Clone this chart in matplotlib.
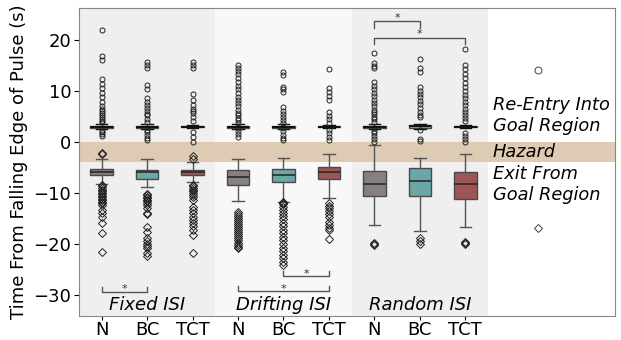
import matplotlib
matplotlib.use("Agg")
import matplotlib.pyplot as plt
import numpy as np

# group / condition labels
groups = ["Fixed ISI", "Drifting ISI", "Random ISI"]
conditions = ["N", "BC", "TCT"]
colors = ["#888080", "#6aa8a8", "#9e5555"]

# exit-from-goal-region boxes (Fixed N, BC, TCT, Drifting N, BC, TCT, Random N, BC, TCT)
exit_med = [-5.8, -5.9, -5.9, -6.9, -6.4, -5.9, -8.3, -7.6, -8.3]
exit_q1 = [-6.5, -7.3, -6.5, -8.5, -7.9, -7.3, -10.5, -10.6, -11.2]
exit_q3 = [-5.2, -5.5, -5.4, -5.4, -5.2, -4.8, -5.6, -5.1, -5.9]
exit_lo = [-8.2, -8.9, -7.8, -11.5, -11.8, -11.0, -16.3, -17.4, -16.7]
exit_hi = [-3.3, -3.3, -3.9, -3.3, -3.1, -2.4, -0.6, -3.1, -2.4]
exit_fliers = [
    [-2.2, -2.4, -8.4, -8.7, -9.0, -9.3, -9.6, -9.9, -10.2, -10.5, -10.8, -11.1, -11.4,
     -11.7, -12.0, -12.3, -13.3, -14.0, -14.6, -15.9, -17.9, -21.5],
    [-10.1, -10.4, -10.7, -11.0, -11.3, -11.6, -12.0, -12.4, -13.0, -14.0, -14.2,
     -16.6, -17.6, -18.9, -19.4, -19.9, -20.3, -20.8, -21.8, -22.4],
    [-2.7, -3.3, -8.4, -8.7, -9.0, -9.3, -9.6, -10.0, -10.4, -10.8, -11.4, -12.7, -13.3,
     -14.0, -14.6, -15.2, -15.9, -16.5, -17.3, -18.2, -21.8],
    [-13.7, -14.1, -14.5, -14.9, -15.3, -15.7, -16.1, -16.5, -16.9, -17.3, -17.7, -18.1,
     -18.5, -18.9, -19.3, -19.7, -20.1, -20.5, -20.8],
    [-11.7, -11.9, -12.1, -12.7, -13.3, -13.9, -14.5, -15.1, -15.8, -16.4, -17.2, -17.9,
     -18.6, -19.3, -20.0, -20.7, -21.4, -22.1, -22.8, -23.5, -24.1],
    [-12.0, -12.5, -13.0, -13.6, -14.2, -14.6, -15.6, -16.2, -16.8, -17.3, -19.1],
    [-19.8, -20.0, -20.1],
    [-18.8, -19.5, -20.0],
    [-19.6, -19.8, -19.9],
]

# re-entry-into-goal-region boxes
reentry_med = [3.05, 3.05, 3.05, 3.05, 3.05, 3.05, 3.05, 3.1, 3.05]
reentry_q1 = [2.85, 2.85, 2.9, 2.85, 2.85, 2.9, 2.85, 2.8, 2.95]
reentry_q3 = [3.25, 3.25, 3.2, 3.25, 3.25, 3.2, 3.25, 3.35, 3.15]
reentry_lo = [2.6, 2.6, 2.7, 2.6, 2.6, 2.7, 2.6, 2.6, 2.8]
reentry_hi = [3.5, 3.5, 3.4, 3.5, 3.5, 3.4, 3.5, 3.6, 3.3]
reentry_fliers = [
    [22.0, 16.9, 16.1, 12.4, 11.5, 10.6, 9.7, 8.8, 7.9, 7.0, 6.6, 6.2, 5.8, 5.4, 5.0,
     4.6, 4.2, 3.9, 2.2, 1.9, 1.6, 1.3],
    [15.7, 15.1, 14.5, 11.2, 10.5, 8.6, 7.9, 7.3, 6.7, 6.1, 5.6, 5.3, 4.6, 4.0, 2.4,
     1.9, 1.4, 0.9, 0.4],
    [15.7, 15.1, 14.5, 9.5, 8.2, 7.3, 6.6, 6.2, 5.7, 5.0, 4.2, 2.0, 1.0, 0.1],
    [15.1, 14.5, 14.0, 13.3, 12.6, 11.9, 11.1, 10.4, 9.7, 8.9, 8.2, 7.6, 7.0, 6.4, 5.8,
     5.3, 4.8, 4.3, 3.8, 2.7, 2.2, 1.6, 1.0],
    [13.8, 13.1, 10.8, 10.4, 9.9, 6.9, 6.2, 5.6, 5.0, 4.4, 3.8, 2.7, 2.1, 1.5, 0.9, 0.4],
    [14.4, 10.6, 9.8, 9.0, 8.2, 5.9, 5.2, 4.5, 3.8, 2.4, 1.7, 1.1, 0.4],
    [17.4, 15.5, 15.0, 14.5, 11.8, 11.1, 10.4, 9.7, 9.0, 8.3, 7.7, 7.0, 6.3, 6.0, 5.5,
     5.0, 4.5, 3.9, 2.7, 2.2, 1.7, 1.2, 0.7, 0.1],
    [16.4, 14.5, 13.8, 10.8, 10.1, 9.4, 8.8, 8.1, 7.4, 6.7, 6.0, 5.4, 5.0, 2.4, 0.7, 0.3],
    [18.2, 15.1, 14.3, 13.4, 12.5, 11.6, 10.8, 10.0, 9.3, 8.6, 7.9, 7.2, 6.6, 6.0, 5.4,
     4.8, 4.2, 1.7, 1.2, 0.6, 0.1],
]

# significance brackets: (left pos, right pos, bar y, tick dy)
brackets = [(0, 1, -29.4, 1.0), (4, 5, -26.3, 1.0), (3, 5, -29.3, 1.0),
            (6, 7, 23.7, -1.2), (6, 8, 20.5, -1.2)]

positions = np.arange(9)


def make_stats(med, q1, q3, lo, hi, fl):
    return [dict(med=med[i], q1=q1[i], q3=q3[i], whislo=lo[i], whishi=hi[i],
                 fliers=fl[i]) for i in range(len(med))]


fig = plt.figure(figsize=(6.21, 3.4), dpi=100)
ax = fig.add_axes([0.127, 0.071, 0.864, 0.905])

ax.axvspan(-0.5, 2.5, color="#efefef", zorder=0, lw=0)
ax.axvspan(2.5, 5.5, color="#f8f8f8", zorder=0, lw=0)
ax.axvspan(5.5, 8.5, color="#efefef", zorder=0, lw=0)
ax.axhspan(-3.9, 0, color="#ddcbb3", zorder=0.5, lw=0)

common = dict(positions=positions, widths=0.5, patch_artist=True,
              whiskerprops=dict(color="#555555", lw=1),
              capprops=dict(color="#555555", lw=1))

ex = ax.bxp(make_stats(exit_med, exit_q1, exit_q3, exit_lo, exit_hi, exit_fliers),
            medianprops=dict(color="#2a2a2a", lw=1.2),
            flierprops=dict(marker="D", markersize=3.6, markerfacecolor="none",
                            markeredgecolor="#222222", markeredgewidth=0.7),
            **common)
re = ax.bxp(make_stats(reentry_med, reentry_q1, reentry_q3, reentry_lo, reentry_hi,
                       reentry_fliers),
            medianprops=dict(color="#111111", lw=1.4),
            flierprops=dict(marker="o", markersize=3.6, markerfacecolor="none",
                            markeredgecolor="#222222", markeredgewidth=0.7),
            **common)

for res in (ex, re):
    for i, box in enumerate(res["boxes"]):
        box.set_facecolor(colors[i % 3])
        box.set_edgecolor("#4a4a4a")
        box.set_linewidth(1)
for cap in re["caps"]:
    cap.set_color("#111111")

for x1, x2, y, dy in brackets:
    ax.plot([x1, x1, x2, x2], [y + dy, y, y, y + dy], color="#555555", lw=1)
    ys = y + abs(dy) * 0.6 if dy < 0 else y + dy * 0.5
    ax.text((x1 + x2) / 2, ys, "*", ha="center", va="center", fontsize=8,
            color="#333333")

for g, name in enumerate(groups):
    ax.text(g * 3 + 1, -32.0, name, ha="center", va="center", fontsize=13,
            style="italic")

# legend-like annotations
ax.plot(9.6, 14.1, "o", markersize=5, markerfacecolor="none",
        markeredgecolor="#444444", markeredgewidth=0.7)
ax.plot(9.6, -16.9, "D", markersize=4.5, markerfacecolor="none",
        markeredgecolor="#444444", markeredgewidth=0.7)
ax.text(8.6, 5.2, "Re-Entry Into\nGoal Region", fontsize=12.8, style="italic",
        va="center", ha="left", linespacing=1.2)
ax.text(8.6, -2.0, "Hazard", fontsize=12.8, style="italic", va="center", ha="left")
ax.text(8.6, -8.3, "Exit From\nGoal Region", fontsize=12.8, style="italic",
        va="center", ha="left", linespacing=1.2)

ax.set_xlim(-0.5, 11.3)
ax.set_ylim(-34.1, 26.3)
ax.set_xticks(positions)
ax.set_xticklabels(conditions * 3, fontsize=13)
ax.tick_params(axis="x", length=3, pad=0.5)
ax.set_yticks([-30, -20, -10, 0, 10, 20])
ax.tick_params(axis="y", labelsize=13, length=3.5, pad=2)
ax.set_ylabel("Time From Falling Edge of Pulse (s)", fontsize=13, labelpad=4)
for s in ax.spines.values():
    s.set_color("#888888")

fig.savefig("out.png", dpi=100)
